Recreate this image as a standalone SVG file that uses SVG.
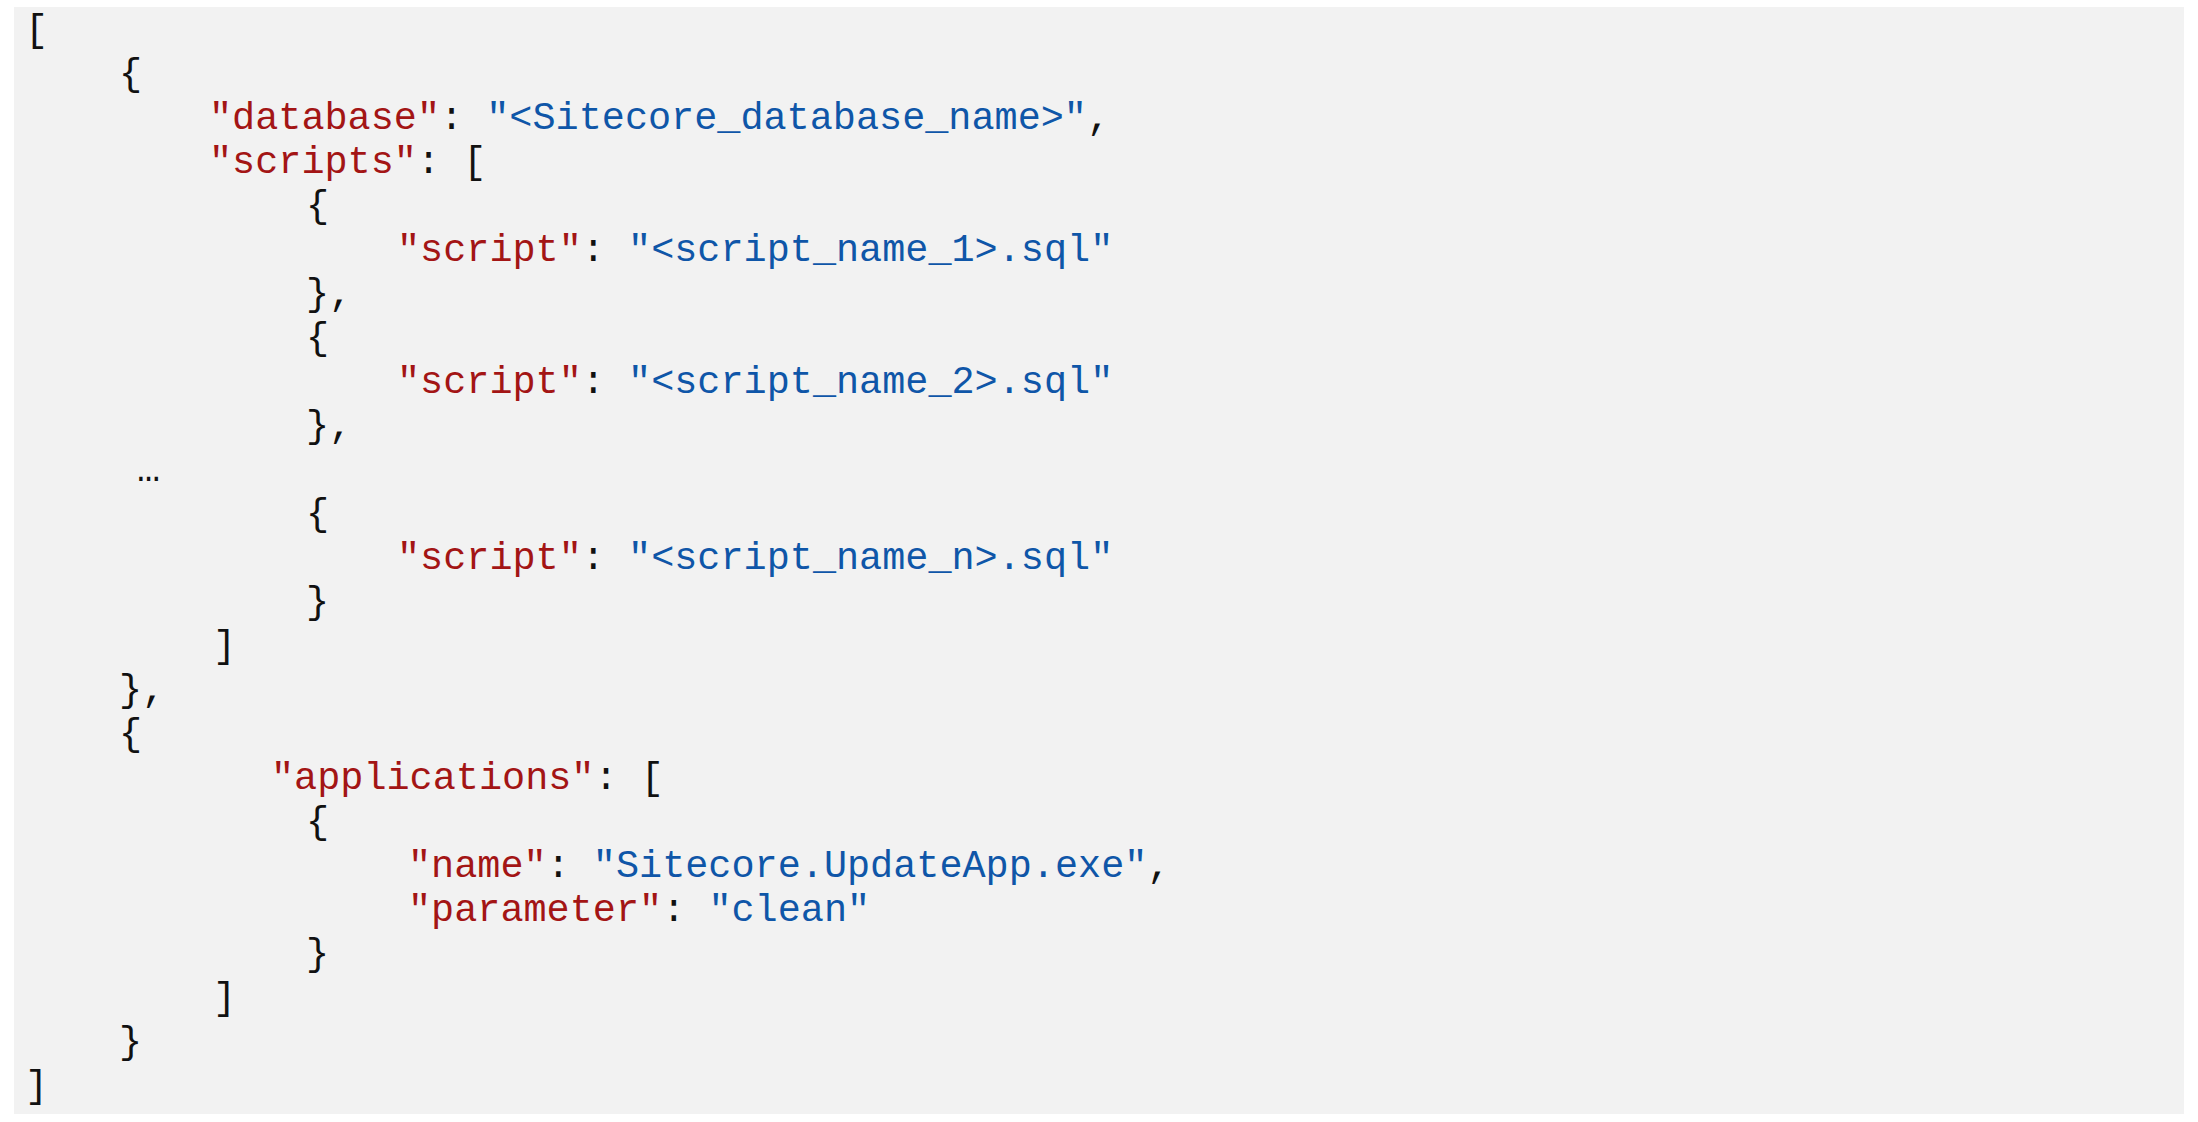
<svg xmlns="http://www.w3.org/2000/svg" width="2198" height="1122" viewBox="0 0 2198 1122">
<style>
text{font-family:"Liberation Mono","Courier New",monospace;font-size:38.5px;fill:#111;white-space:pre}
.k{fill:#a31515}
.v{fill:#0f56a8}
</style>
<rect x="0" y="0" width="2198" height="1122" fill="#ffffff"/>
<rect x="14" y="7" width="2170" height="1107" fill="#f2f2f2"/>
<g id="code">
<text x="25" y="41">[</text>
<text x="119" y="85">{</text>
<text x="209" y="129"><tspan class="k">"database"</tspan>: <tspan class="v">"&lt;Sitecore_database_name&gt;"</tspan>,</text>
<text x="209" y="173"><tspan class="k">"scripts"</tspan>: [</text>
<text x="306" y="217">{</text>
<text x="397" y="261"><tspan class="k">"script"</tspan>: <tspan class="v">"&lt;script_name_1&gt;.sql"</tspan></text>
<text x="306" y="305">},</text>
<text x="306" y="349">{</text>
<text x="397" y="393"><tspan class="k">"script"</tspan>: <tspan class="v">"&lt;script_name_2&gt;.sql"</tspan></text>
<text x="306" y="437">},</text>
<text x="137" y="481">…</text>
<text x="306" y="525">{</text>
<text x="397" y="569"><tspan class="k">"script"</tspan>: <tspan class="v">"&lt;script_name_n&gt;.sql"</tspan></text>
<text x="306" y="613">}</text>
<text x="213" y="657">]</text>
<text x="119" y="701">},</text>
<text x="119" y="745">{</text>
<text x="271" y="789"><tspan class="k">"applications"</tspan>: [</text>
<text x="306" y="833">{</text>
<text x="408" y="877"><tspan class="k">"name"</tspan>: <tspan class="v">"Sitecore.UpdateApp.exe"</tspan>,</text>
<text x="408" y="921"><tspan class="k">"parameter"</tspan>: <tspan class="v">"clean"</tspan></text>
<text x="306" y="965">}</text>
<text x="213" y="1009">]</text>
<text x="119" y="1053">}</text>
<text x="25" y="1097">]</text>
</g>
</svg>
